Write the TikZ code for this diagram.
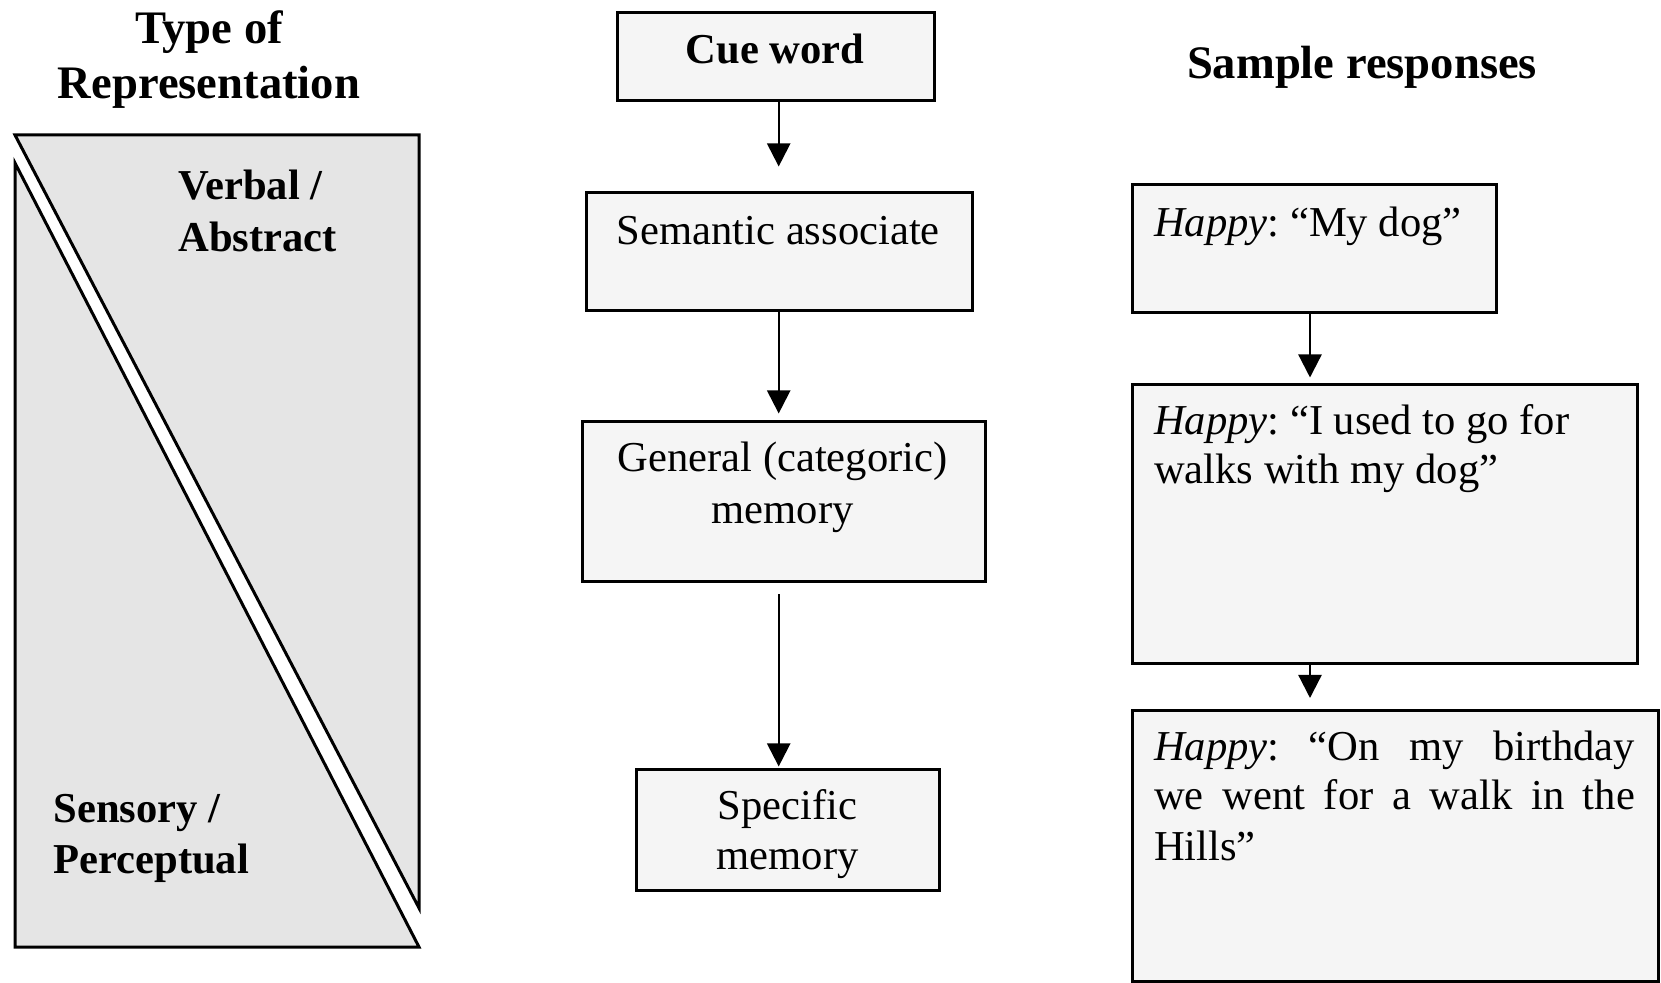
\documentclass[tikz,border=0pt]{standalone}
\usepackage{fontspec}
\setmainfont{Liberation Serif}
\usetikzlibrary{arrows.meta}
\frenchspacing
\begin{document}
\begin{tikzpicture}[x=0.5pt,y=-0.5pt,
  box/.style={draw=black, line width=1.5pt, fill=black!4, inner sep=0, rectangle},
  arr/.style={line width=1.15pt, -{Triangle[width=11.5pt,length=11.5pt]}},
  body/.style={inner sep=0, anchor=base, font=\fontsize{21.3pt}{26pt}\selectfont},
  bodyl/.style={inner sep=0, anchor=base west, font=\fontsize{21.3pt}{26pt}\selectfont},
  head/.style={inner sep=0, anchor=base, font=\fontsize{23.3pt}{28pt}\selectfont\bfseries},
  lab/.style={inner sep=0, anchor=base west, font=\fontsize{21.3pt}{26pt}\selectfont\bfseries},
  rep/.style={draw=black, line width=1.5pt, fill=black!10, line join=miter}
]
\useasboundingbox (0,0) rectangle (1661,983);

% left representation shape
\draw[rep] (15,135) -- (419,135) -- (419,908) -- cycle;
\draw[rep] (15,163) -- (419,947) -- (15,947) -- cycle;

\node[head] (t1) at (209,43.5) {Type of};
\node[head] (t2) at (209,98.5) {Representation};
\node[lab] (v1) at (178,200) {Verbal /};
\node[lab] (v2) at (178,251.5) {Abstract};
\node[lab] (s1) at (53,822.5) {Sensory /};
\node[lab] (s2) at (53,873) {Perceptual};

% middle column
\coordinate (ax) at (778.7,0);
\node[box, minimum width=158.5pt, minimum height=44pt] (cue) at (775.5,57) {};
\node[box, minimum width=193pt, minimum height=59pt] (sem) at (779,252) {};
\node[box, minimum width=201.5pt, minimum height=80pt] (gen) at (783.5,502) {};
\node[box, minimum width=151.5pt, minimum height=60pt] (spec) at (787.5,830) {};

\node[body, font=\fontsize{21.3pt}{26pt}\selectfont\bfseries] (cuet) at (775,63.5) {Cue word};
\node[body] (semt) at (778.3,245) {Semantic associate};
\node[body] (gent1) at (782.5,471.7) {General (categoric)};
\node[body] (gent2) at (782.5,523.3) {memory};
\node[body] (spect1) at (787.5,819.3) {Specific};
\node[body] (spect2) at (787.5,869.3) {memory};

\draw[arr, shorten >=12.5pt] (cue.south -| ax) -- (sem.north -| ax);
\draw[arr, shorten >=3.5pt] (sem.south -| ax) -- (gen.north -| ax);
\draw[arr, shorten <=5.5pt, shorten >=1pt] (gen.south -| ax) -- (spec.north -| ax);

% right column
\node[head] (sr) at (1362,78.5) {Sample responses};
\coordinate (bx) at (1310,0);
\node[box, minimum width=182pt, minimum height=63.75pt] (r1) at (1314,248.75) {};
\node[box, minimum width=252.5pt, minimum height=139.75pt] (r2) at (1384.5,524.25) {};
\node[box, minimum width=263pt, minimum height=135pt] (r3) at (1395,846) {};

\node[bodyl] (r1t) at (1153.6,237) {\textit{Happy}: “My dog”};
\node[bodyl] (r2t1) at (1153.6,435) {\textit{Happy}: “I used to go for};
\node[bodyl] (r2t2) at (1153.6,483.3) {walks with my dog”};
\node[bodyl] (r3t1) at (1153.6,761) {\makebox[240.5pt][s]{\textit{Happy}: “On my birthday}};
\node[bodyl] (r3t2) at (1153.6,810) {\makebox[240.5pt][s]{we went for a walk in the}};
\node[bodyl] (r3t3) at (1153.6,860) {Hills”};

\draw[arr, shorten >=2.75pt] (r1.south -| bx) -- (r2.north -| bx);
\draw[arr, shorten >=5.75pt] (r2.south -| bx) -- (r3.north -| bx);
\end{tikzpicture}
\end{document}
